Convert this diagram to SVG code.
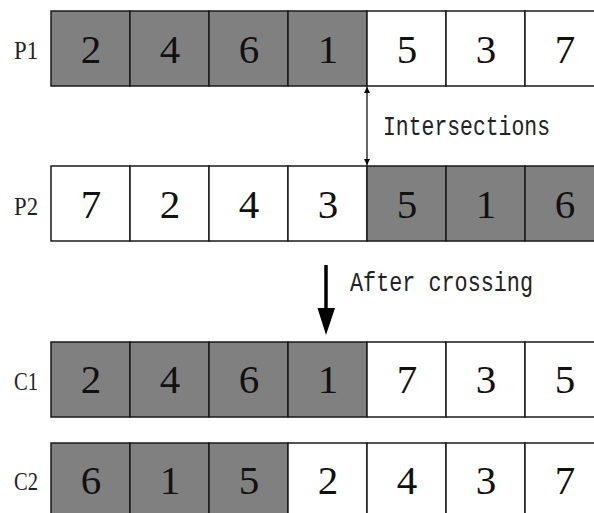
<svg xmlns="http://www.w3.org/2000/svg" width="594" height="513" viewBox="0 0 594 513">
<style>
.g{fill:#808080;stroke:#1a1a1a;stroke-width:1.5}
.w{fill:#ffffff;stroke:#1a1a1a;stroke-width:1.5}
.d{font-family:"Liberation Serif",serif;font-size:41px;text-anchor:middle;fill:#111}
.lb{font-family:"Liberation Serif",serif;font-size:26px;fill:#222}
.m{font-family:"Liberation Mono",monospace;font-size:27px;fill:#222}
</style>
<defs>
<marker id="ah" viewBox="0 0 10 10" refX="10" refY="5" markerWidth="10" markerHeight="6" markerUnits="userSpaceOnUse" orient="auto-start-reverse">
<path d="M0,0 L10,5 L0,10 z" fill="#000"/>
</marker>
</defs>
<rect width="594" height="513" fill="#fff"/>

<g id="label-P1"><text class="lb" x="14" y="59" textLength="24" lengthAdjust="spacingAndGlyphs">P1</text></g>
<g id="P1">
<g id="P1-1"><rect class="g" x="51" y="11" width="79" height="75"/><text class="d" x="91" y="63">2</text></g>
<g id="P1-2"><rect class="g" x="130" y="11" width="79" height="75"/><text class="d" x="170" y="63">4</text></g>
<g id="P1-3"><rect class="g" x="209" y="11" width="79" height="75"/><text class="d" x="249" y="63">6</text></g>
<g id="P1-4"><rect class="g" x="288" y="11" width="79" height="75"/><text class="d" x="328" y="63">1</text></g>
<g id="P1-5"><rect class="w" x="367" y="11" width="79" height="75"/><text class="d" x="407" y="63">5</text></g>
<g id="P1-6"><rect class="w" x="446" y="11" width="79" height="75"/><text class="d" x="486" y="63">3</text></g>
<g id="P1-7"><rect class="w" x="525" y="11" width="79" height="75"/><text class="d" x="565" y="63">7</text></g>
</g>

<g id="label-P2"><text class="lb" x="14" y="215" textLength="24" lengthAdjust="spacingAndGlyphs">P2</text></g>
<g id="P2">
<g id="P2-1"><rect class="w" x="51" y="166" width="79" height="75"/><text class="d" x="91" y="218">7</text></g>
<g id="P2-2"><rect class="w" x="130" y="166" width="79" height="75"/><text class="d" x="170" y="218">2</text></g>
<g id="P2-3"><rect class="w" x="209" y="166" width="79" height="75"/><text class="d" x="249" y="218">4</text></g>
<g id="P2-4"><rect class="w" x="288" y="166" width="79" height="75"/><text class="d" x="328" y="218">3</text></g>
<g id="P2-5"><rect class="g" x="367" y="166" width="79" height="75"/><text class="d" x="407" y="218">5</text></g>
<g id="P2-6"><rect class="g" x="446" y="166" width="79" height="75"/><text class="d" x="486" y="218">1</text></g>
<g id="P2-7"><rect class="g" x="525" y="166" width="79" height="75"/><text class="d" x="565" y="218">6</text></g>
</g>

<g id="label-C1"><text class="lb" x="14" y="390" textLength="24" lengthAdjust="spacingAndGlyphs">C1</text></g>
<g id="C1">
<g id="C1-1"><rect class="g" x="51" y="342" width="79" height="75"/><text class="d" x="91" y="393">2</text></g>
<g id="C1-2"><rect class="g" x="130" y="342" width="79" height="75"/><text class="d" x="170" y="393">4</text></g>
<g id="C1-3"><rect class="g" x="209" y="342" width="79" height="75"/><text class="d" x="249" y="393">6</text></g>
<g id="C1-4"><rect class="g" x="288" y="342" width="79" height="75"/><text class="d" x="328" y="393">1</text></g>
<g id="C1-5"><rect class="w" x="367" y="342" width="79" height="75"/><text class="d" x="407" y="393">7</text></g>
<g id="C1-6"><rect class="w" x="446" y="342" width="79" height="75"/><text class="d" x="486" y="393">3</text></g>
<g id="C1-7"><rect class="w" x="525" y="342" width="79" height="75"/><text class="d" x="565" y="393">5</text></g>
</g>

<g id="label-C2"><text class="lb" x="14" y="490" textLength="24" lengthAdjust="spacingAndGlyphs">C2</text></g>
<g id="C2">
<g id="C2-1"><rect class="g" x="51" y="443" width="79" height="75"/><text class="d" x="91" y="494">6</text></g>
<g id="C2-2"><rect class="g" x="130" y="443" width="79" height="75"/><text class="d" x="170" y="494">1</text></g>
<g id="C2-3"><rect class="g" x="209" y="443" width="79" height="75"/><text class="d" x="249" y="494">5</text></g>
<g id="C2-4"><rect class="w" x="288" y="443" width="79" height="75"/><text class="d" x="328" y="494">2</text></g>
<g id="C2-5"><rect class="w" x="367" y="443" width="79" height="75"/><text class="d" x="407" y="494">4</text></g>
<g id="C2-6"><rect class="w" x="446" y="443" width="79" height="75"/><text class="d" x="486" y="494">3</text></g>
<g id="C2-7"><rect class="w" x="525" y="443" width="79" height="75"/><text class="d" x="565" y="494">7</text></g>
</g>

<g id="connectors">
<line x1="367" y1="87" x2="367" y2="165" stroke="#000" stroke-width="1.2" marker-start="url(#ah)" marker-end="url(#ah)"/>
<line x1="326" y1="265" x2="326" y2="310" stroke="#000" stroke-width="3.5"/>
<path d="M317.5,308 L335,308 L326,335 z" fill="#000"/>
</g>
<text class="m" x="383" y="135" textLength="167" lengthAdjust="spacingAndGlyphs">Intersections</text>
<text class="m" x="350" y="291" textLength="183" lengthAdjust="spacingAndGlyphs">After crossing</text>
</svg>
